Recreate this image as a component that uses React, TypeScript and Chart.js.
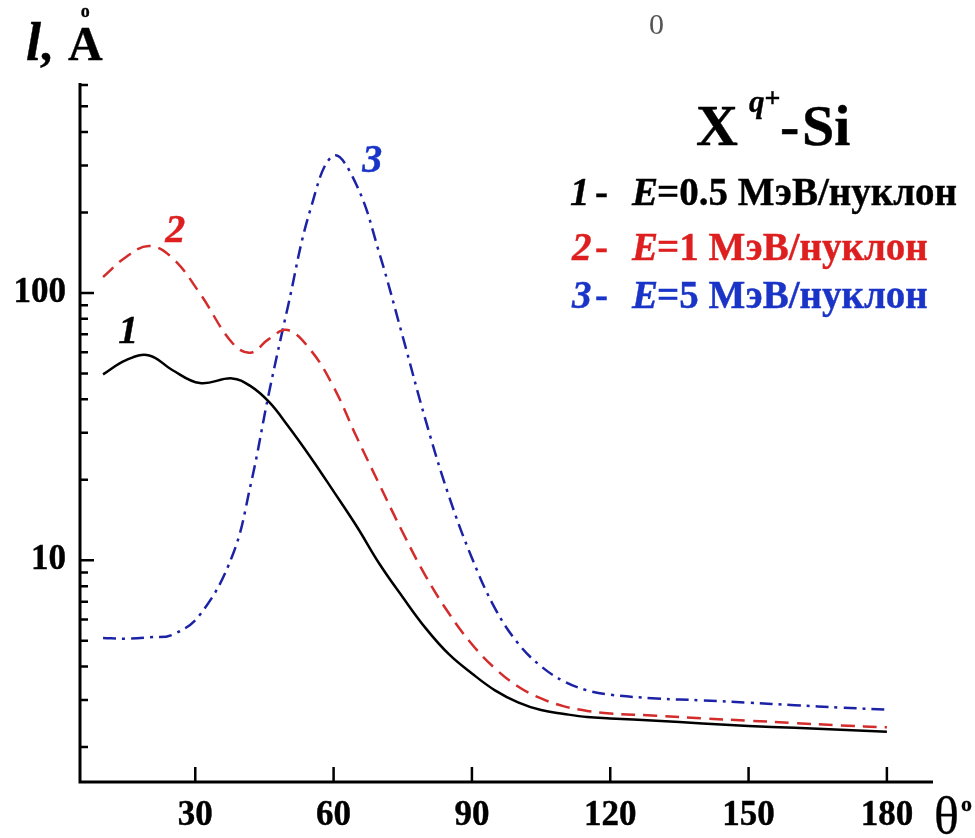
import React, { useEffect, useRef } from 'react';
import { Chart, registerables } from 'chart.js';

Chart.register(...registerables);

// Scattering angle θ (degrees)
const angles = [10, 15, 20, 25, 31, 38, 42, 46, 50, 55, 60, 65, 70, 75, 80, 85, 90, 95, 100, 105, 110, 115, 120, 130, 140, 150, 160, 170, 180];

// Path length l (Å) for each projectile energy
const lenE05 = [49.6, 56.1, 58.4, 51.5, 46.0, 47.9, 44.8, 39.1, 32.0, 24.3, 18.1, 13.4, 9.66, 7.27, 5.56, 4.45, 3.77, 3.26, 2.94, 2.75, 2.66, 2.59, 2.56, 2.51, 2.45, 2.4, 2.36, 2.32, 2.28];
const lenE1 = [114.8, 136.4, 150, 135.3, 99.7, 65.1, 59.8, 67.3, 72.7, 61.2, 44.5, 28.9, 19.1, 12.7, 8.71, 6.33, 4.85, 3.94, 3.37, 3.04, 2.84, 2.73, 2.67, 2.62, 2.56, 2.51, 2.46, 2.41, 2.37];
const lenE5 = [5.12, 5.09, 5.15, 5.26, 6.25, 10.35, 19.1, 42.4, 87.5, 206, 326, 253, 139.3, 68.6, 33.2, 17.4, 10.2, 6.61, 4.89, 4.01, 3.52, 3.26, 3.14, 3.04, 2.99, 2.93, 2.87, 2.81, 2.76];

// Axis ticks
const xTickValues = [30, 60, 90, 120, 150, 180];
const yMajorTicks = [10, 100];
const yMinorTicks = [2, 3, 4, 5, 6, 7, 8, 9, 20, 30, 40, 50, 60, 70, 80, 90, 200, 300, 400, 500, 600];

// Legend entries
const legendNums = ['1', '2', '3'];
const legendEnergies = ['=0.5 МэВ/нуклон', '=1 МэВ/нуклон', '=5 МэВ/нуклон'];

// Curve number tags, placed in data coordinates (angle, length)
const tagAngles = [13.3, 23.5, 66.2];
const tagValues = [65, 155, 284];

const X_MIN = 5;
const X_MAX = 190;
const Y_MIN = 1.48;
const Y_MAX = 600;

const SERIF = "'Liberation Serif', 'Times New Roman', serif";
const BLACK = '#000000';
const RED_LINE = '#d42b2b';
const BLUE_LINE = '#1c22a6';
const RED_TEXT = '#de1f1f';
const BLUE_TEXT = '#1a34c8';
const seriesColors = [BLACK, RED_LINE, BLUE_LINE];
const textColors = [BLACK, RED_TEXT, BLUE_TEXT];

function put(ctx: CanvasRenderingContext2D, text: string, x: number, y: number, font: string, color: string, stroke = 0.4) {
  ctx.font = font;
  ctx.fillStyle = color;
  ctx.fillText(text, x, y);
  if (stroke > 0) {
    ctx.strokeStyle = color;
    ctx.lineWidth = stroke;
    ctx.strokeText(text, x, y);
  }
  return x + ctx.measureText(text).width;
}

const decorations = {
  id: 'decorations',
  afterDraw(chart: any) {
    const { ctx, chartArea, scales } = chart;
    const { left, right, top, bottom } = chartArea;
    const xs = scales.x;
    const ys = scales.y;
    ctx.save();

    // axes
    ctx.strokeStyle = BLACK;
    ctx.lineWidth = 3;
    ctx.lineCap = 'butt';
    ctx.beginPath();
    ctx.moveTo(left, top - 2);
    ctx.lineTo(left, bottom + 1.5);
    ctx.moveTo(left - 1.5, bottom);
    ctx.lineTo(right, bottom);
    ctx.stroke();

    // inward tick marks
    ctx.lineWidth = 2.5;
    ctx.beginPath();
    for (const v of yMajorTicks) {
      const py = ys.getPixelForValue(v);
      ctx.moveTo(left, py);
      ctx.lineTo(left + 14, py);
    }
    for (const v of yMinorTicks) {
      const py = ys.getPixelForValue(v);
      ctx.moveTo(left, py);
      ctx.lineTo(left + 8, py);
    }
    for (const v of xTickValues) {
      const px = xs.getPixelForValue(v);
      ctx.moveTo(px, bottom);
      ctx.lineTo(px, bottom - 15);
    }
    ctx.stroke();

    ctx.textBaseline = 'alphabetic';
    ctx.textAlign = 'left';

    // y-axis title: l, Å (ring drawn as a small o over the A)
    put(ctx, 'l', 26, 60, `italic bold 54px ${SERIF}`, BLACK);
    put(ctx, ',', 40, 60, `bold 48px ${SERIF}`, BLACK);
    const aw = put(ctx, 'A', 68, 60, `bold 48px ${SERIF}`, BLACK) - 68;
    ctx.textAlign = 'center';
    put(ctx, 'o', 68 + aw / 2, 17, `bold 18px ${SERIF}`, BLACK, 0.3);
    ctx.textAlign = 'left';

    // stray mark near the top
    put(ctx, '0', 649, 34, `30px ${SERIF}`, '#555555', 0);

    // x-axis title: θ°
    put(ctx, 'θ', 934, 833, `52px ${SERIF}`, BLACK, 0.3);
    put(ctx, 'o', 961, 811, `bold 22px ${SERIF}`, BLACK, 0.3);

    // legend heading: X^{q+} - Si
    put(ctx, 'X', 696, 145, `bold 58px ${SERIF}`, BLACK);
    const hx = put(ctx, 'q', 749, 112, `italic bold 31px ${SERIF}`, BLACK);
    put(ctx, '+', hx, 107, `bold 28px ${SERIF}`, BLACK);
    put(ctx, '-', 780, 145, `bold 58px ${SERIF}`, BLACK);
    put(ctx, 'Si', 802, 145, `bold 58px ${SERIF}`, BLACK);

    // legend entries
    const baselines = [205, 260, 308];
    legendNums.forEach((n, i) => {
      const c = textColors[i];
      const y = baselines[i];
      const x0 = i === 0 ? 570 : 572;
      put(ctx, n, x0, y, `italic bold 39px ${SERIF}`, c);
      put(ctx, '-', 595, y, `bold 39px ${SERIF}`, c);
      const ex = put(ctx, 'E', 632, y, `italic bold 39px ${SERIF}`, c);
      put(ctx, legendEnergies[i], ex - 1, y, `bold 39px ${SERIF}`, c);
    });

    // curve tags
    tagAngles.forEach((a, i) => {
      put(ctx, legendNums[i], xs.getPixelForValue(a), ys.getPixelForValue(tagValues[i]), `italic bold 40px ${SERIF}`, textColors[i]);
    });

    ctx.restore();
  },
};

export default function App() {
  const canvasRef = useRef<HTMLCanvasElement | null>(null);

  useEffect(() => {
    const canvas = canvasRef.current;
    if (!canvas) return;
    const series = [lenE05, lenE1, lenE5];
    const dashes = [[], [14, 8], [13, 6, 3, 6]];
    const chart = new Chart(canvas, {
      type: 'line',
      data: {
        datasets: series.map((vals, i) => ({
          label: legendNums[i],
          data: angles.map((a, k) => ({ x: a, y: vals[k] })),
          borderColor: seriesColors[i],
          borderWidth: 2.5,
          borderDash: dashes[i],
          pointRadius: 0,
          fill: false,
          tension: 0.4,
        })),
      },
      options: {
        animation: false,
        responsive: false,
        devicePixelRatio: 1,
        layout: { padding: { top: 85, right: 42, bottom: 0, left: 0 } },
        plugins: { legend: { display: false }, tooltip: { enabled: false }, title: { display: false } },
        scales: {
          x: {
            type: 'linear',
            min: X_MIN,
            max: X_MAX,
            afterBuildTicks: (s: any) => {
              s.ticks = xTickValues.map((value) => ({ value }));
            },
            afterFit: (s: any) => {
              s.height = 56;
            },
            grid: { display: false, drawTicks: false },
            border: { display: false },
            ticks: {
              color: BLACK,
              padding: 13,
              maxRotation: 0,
              autoSkip: false,
              textStrokeColor: BLACK,
              textStrokeWidth: 0.4,
              font: { family: SERIF, size: 35, weight: 'bold' },
              callback: (v: any) => String(v),
            },
          },
          y: {
            type: 'logarithmic',
            min: Y_MIN,
            max: Y_MAX,
            afterBuildTicks: (s: any) => {
              s.ticks = yMajorTicks.map((value) => ({ value }));
            },
            afterFit: (s: any) => {
              s.width = 80;
            },
            grid: { display: false, drawTicks: false },
            border: { display: false },
            ticks: {
              color: BLACK,
              padding: 14,
              autoSkip: false,
              textStrokeColor: BLACK,
              textStrokeWidth: 0.4,
              font: { family: SERIF, size: 35, weight: 'bold' },
              callback: (v: any) => String(v),
            },
          },
        },
      },
      plugins: [decorations],
    } as any);
    return () => chart.destroy();
  }, []);

  return (
    <div style={{ position: 'absolute', left: 0, top: 0, width: 975, height: 838, background: '#ffffff' }}>
      <canvas ref={canvasRef} width={975} height={838} style={{ display: 'block' }} />
    </div>
  );
}
